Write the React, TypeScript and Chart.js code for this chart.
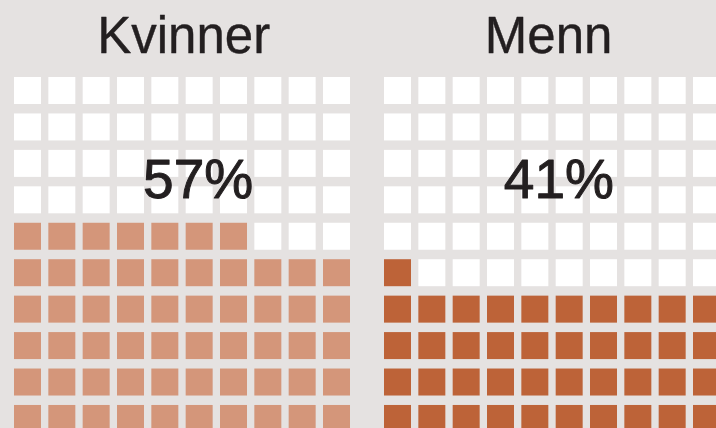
import React, { useEffect, useRef } from "react";
import { Chart, registerables } from "chart.js";

Chart.register(...registerables);

// ---- data ----
const categories = ["Kvinner", "Menn"];
const percentages = [57, 41];
const gridColumns = 10;
const gridRows = 10;

// ---- styles / layout ----
const fillColors = ["#d4967a", "#bd6338"];
const emptyColor = "#ffffff";
const backgroundColor = "#e5e2e1";
const textColor = "#231f20";
const W = 716;
const H = 428;
const pitchX = 34.333; // px per column
const pitchY = 36.44; // px per row
const cellSize = 27;
const firstColCenter = 27.5;
const firstRowCenter = 90.5;
const groupOffset = 10.777; // columns between the two grids
const titleX = [4.55, 4.4];
const percentX = [4.97, 4.7];
const titleY = -1.02;
const percentY = 2.95;

type Pt = { x: number; y: number };

function buildCells(group: number, pct: number) {
  const filled: Pt[] = [];
  const empty: Pt[] = [];
  const total = gridColumns * gridRows;
  for (let i = 0; i < total; i++) {
    const col = i % gridColumns;
    const rowFromBottom = Math.floor(i / gridColumns);
    const row = gridRows - 1 - rowFromBottom;
    const p = { x: col + group * groupOffset, y: row };
    if (i < pct) filled.push(p);
    else empty.push(p);
  }
  return { filled, empty };
}

const labelPlugin = {
  id: "waffleLabels",
  afterDatasetsDraw(chart: any) {
    const { ctx, scales } = chart;
    const xs = scales.x;
    const ys = scales.y;
    ctx.save();
    ctx.fillStyle = textColor;
    ctx.strokeStyle = textColor;
    ctx.lineJoin = "round";
    ctx.textAlign = "center";
    ctx.textBaseline = "alphabetic";
    categories.forEach((name, g) => {
      ctx.font = '51px "Liberation Sans", Arial, sans-serif';
      const tx = xs.getPixelForValue(titleX[g] + g * groupOffset);
      const ty = ys.getPixelForValue(titleY);
      ctx.fillText(name, tx, ty);
      ctx.lineWidth = 0.4;
      ctx.strokeText(name, tx, ty);
      ctx.font = '55px "Liberation Sans", Arial, sans-serif';
      const px = xs.getPixelForValue(percentX[g] + g * groupOffset);
      const py = ys.getPixelForValue(percentY);
      const label = `${percentages[g]}%`;
      ctx.fillText(label, px, py);
      ctx.lineWidth = 1;
      ctx.strokeText(label, px, py);
    });
    ctx.restore();
  },
};

export default function App() {
  const ref = useRef<HTMLCanvasElement | null>(null);

  useEffect(() => {
    if (!ref.current) return;
    const datasets: any[] = [];
    categories.forEach((name, g) => {
      const { filled, empty } = buildCells(g, percentages[g]);
      const common = {
        pointStyle: "rect",
        pointRadius: cellSize / Math.SQRT2,
        pointBorderWidth: 0,
        borderWidth: 0,
        showLine: false,
      };
      datasets.push({ label: name + " andel", data: filled, backgroundColor: fillColors[g], pointBackgroundColor: fillColors[g], ...common });
      datasets.push({ label: name + " rest", data: empty, backgroundColor: emptyColor, pointBackgroundColor: emptyColor, ...common });
    });

    const xMin = -firstColCenter / pitchX;
    const xMax = xMin + W / pitchX;
    const yMin = -firstRowCenter / pitchY;
    const yMax = yMin + H / pitchY;

    const chart = new Chart(ref.current, {
      type: "scatter",
      data: { datasets },
      options: {
        animation: false,
        responsive: false,
        events: [],
        layout: { padding: 0, autoPadding: false },
        plugins: { legend: { display: false }, tooltip: { enabled: false } },
        scales: {
          x: { type: "linear", display: false, min: xMin, max: xMax },
          y: { type: "linear", display: false, reverse: true, min: yMin, max: yMax },
        },
      } as any,
      plugins: [labelPlugin],
    });
    return () => chart.destroy();
  }, []);

  return (
    <div
      style={{
        position: "absolute",
        left: 0,
        top: 0,
        width: W,
        height: H,
        background: backgroundColor,
        overflow: "hidden",
      }}
    >
      <canvas ref={ref} width={W} height={H} style={{ display: "block", width: W, height: H }} />
    </div>
  );
}
